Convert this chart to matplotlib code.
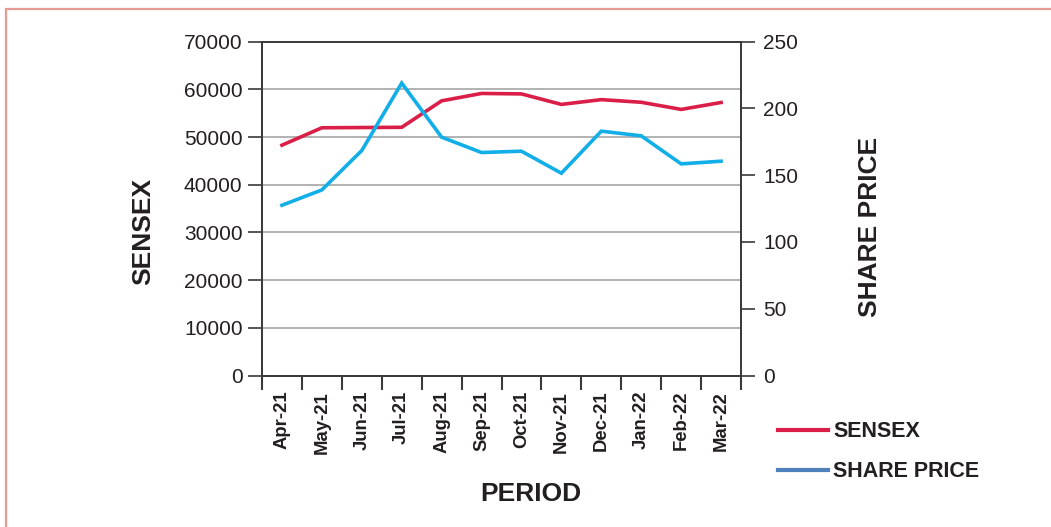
import matplotlib.pyplot as plt
from matplotlib.lines import Line2D
from matplotlib.patches import Rectangle
import numpy as np

# --- Data ---
periods = ["Apr-21", "May-21", "Jun-21", "Jul-21", "Aug-21", "Sep-21",
           "Oct-21", "Nov-21", "Dec-21", "Jan-22", "Feb-22", "Mar-22"]
sensex = [48300, 51950, 52000, 52050, 57600, 59150,
          59050, 56850, 57850, 57300, 55800, 57250]
share_price = [127.5, 139.0, 168.5, 219.0, 178.5, 167.0,
               168.0, 151.5, 183.0, 179.5, 158.5, 160.5]

sensex_ticks = np.arange(0, 70001, 10000)
price_ticks = np.arange(0, 251, 50)

RED = "#DA1E48"
BLUE = "#12AEE8"
LEG_BLUE = "#4F81BD"
SPINE = "#3A3A3A"
GRID = "#A6A6A6"

plt.rcParams["font.family"] = ["Liberation Sans", "DejaVu Sans"]

fig = plt.figure(figsize=(10.51, 5.27), dpi=100)
W, H = 1051, 527

# pink frame around the whole graphic
fig.patches.append(Rectangle((5.5 / W, -0.2), 1.2, (H - 8.5) / H + 0.2,
                             transform=fig.transFigure, fill=False,
                             edgecolor="#E59A94", linewidth=1.6))

ax = fig.add_axes([262 / W, (H - 375.5) / H, (741 - 262) / W, (375.5 - 41.7) / H])
ax2 = ax.twinx()

x = np.arange(len(periods))
ax.plot(x, sensex, color=RED, lw=2.6, solid_joinstyle="miter", zorder=3)
ax2.plot(x, share_price, color=BLUE, lw=2.6, solid_joinstyle="miter", zorder=3)

ax.set_ylim(0, 70000)
ax.set_yticks(sensex_ticks)
ax.set_yticklabels([str(v) for v in sensex_ticks], fontsize=15, color="#231F20")
ax.yaxis.grid(True, color=GRID, lw=1.2)
ax.set_axisbelow(True)

ax2.set_ylim(0, 250)
ax2.set_yticks(price_ticks)
ax2.set_yticklabels([str(v) for v in price_ticks], fontsize=15, color="#231F20")

ax.set_xlim(-0.5, len(periods) - 0.5)
ax.set_xticks(np.arange(-0.5, len(periods), 1.0))
ax.set_xticklabels([])
ax.set_xticks(x, minor=True)
ax.set_xticklabels(periods, minor=True, rotation=90, fontsize=13.3,
                   fontweight="bold", color="#231F20")
ax.tick_params(axis="x", which="minor", length=0, pad=11)
ax.tick_params(axis="x", which="major", direction="out", length=10,
               width=1.5, color=SPINE)
ax.tick_params(axis="y", direction="out", length=10, width=1.2, color=SPINE, pad=4)
ax2.tick_params(axis="y", direction="out", length=10, width=1.2, color=SPINE, pad=6)

for a in (ax, ax2):
    for s in a.spines.values():
        s.set_color(SPINE)
        s.set_linewidth(1.3)

# axis titles
fig.text(143 / W, 1 - 231 / H, "SENSEX", rotation=90, fontsize=19,
         fontweight="bold", ha="center", va="center", color="#231F20")
fig.text(870 / W, 1 - 227 / H, "SHARE PRICE", rotation=90, fontsize=19,
         fontweight="bold", ha="center", va="center", color="#231F20")
fig.text(531 / W, 1 - 494 / H, "PERIOD", fontsize=19,
         fontweight="bold", ha="center", va="center", color="#231F20")

# legend (its blue swatch differs from the drawn line, as in the reference)
handles = [Line2D([], [], color=RED, lw=3),
           Line2D([], [], color=LEG_BLUE, lw=3)]
leg = fig.legend(handles, ["SENSEX", "SHARE PRICE"], loc="upper left",
                 bbox_to_anchor=(759 / W, 1 - 402 / H), frameon=False,
                 handlelength=2.3, handletextpad=0.25, labelspacing=0.88,
                 prop={"size": 15.5, "weight": "bold"})
for t in leg.get_texts():
    t.set_color("#231F20")

fig.savefig("out.png", dpi=100)
